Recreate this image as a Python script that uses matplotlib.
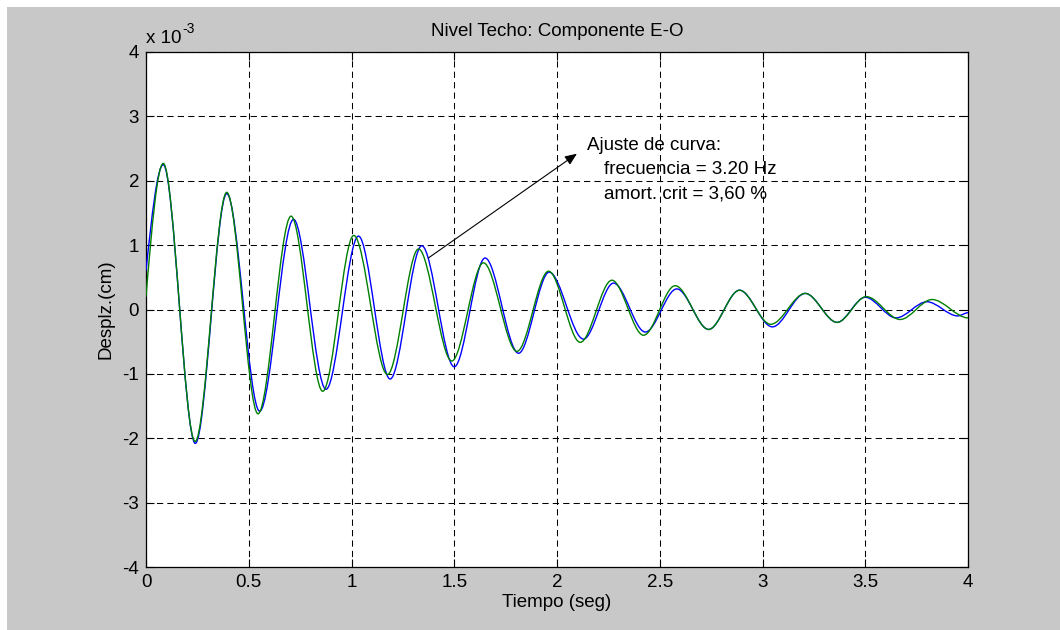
import matplotlib
matplotlib.use("Agg")
import matplotlib.pyplot as plt
from matplotlib.path import Path
from matplotlib.patches import PathPatch, Rectangle

plt.rcParams['font.family'] = ['Liberation Sans', 'DejaVu Sans']
plt.rcParams['font.size'] = 13.5
plt.rcParams['axes.unicode_minus'] = False

# peaks / troughs (time in s, displacement in 1e-3 cm)
blue_t = [0.0, 0.084, 0.24, 0.393, 0.553, 0.718, 0.876, 1.034, 1.188, 1.342,
          1.50, 1.65, 1.813, 1.962, 2.129, 2.275, 2.43, 2.583, 2.738, 2.888,
          3.048, 3.208, 3.363, 3.50, 3.65, 3.80, 3.95, 4.0]
blue_v = [0.6, 2.25, -2.08, 1.80, -1.58, 1.40, -1.24, 1.14, -1.08, 0.99,
          -0.89, 0.80, -0.68, 0.58, -0.46, 0.41, -0.35, 0.32, -0.31, 0.30,
          -0.27, 0.25, -0.20, 0.19, -0.13, 0.12, -0.10, -0.05]

green_t = [0.0, 0.084, 0.239, 0.393, 0.545, 0.706, 0.860, 1.011, 1.175, 1.326,
           1.488, 1.642, 1.805, 1.959, 2.113, 2.267, 2.421, 2.575, 2.738, 2.888,
           3.04, 3.208, 3.363, 3.505, 3.67, 3.825, 4.0]
green_v = [0.2, 2.27, -2.05, 1.82, -1.62, 1.45, -1.27, 1.15, -1.01, 0.94,
           -0.80, 0.725, -0.65, 0.595, -0.51, 0.455, -0.40, 0.37, -0.31, 0.30,
           -0.23, 0.25, -0.20, 0.20, -0.155, 0.155, -0.13]

xticks = [0, 0.5, 1, 1.5, 2, 2.5, 3, 3.5, 4]
xticklabels = ["0", "0.5", "1", "1.5", "2", "2.5", "3", "3.5", "4"]
yticks = [-4, -3, -2, -1, 0, 1, 2, 3, 4]
yticklabels = ["-4", "-3", "-2", "-1", "0", "1", "2", "3", "4"]


def wave_path(t, v):
    # smooth curve through the extrema (flat tangent at each one)
    verts = [(t[0], v[0])]
    codes = [Path.MOVETO]
    for i in range(len(t) - 1):
        dt = t[i + 1] - t[i]
        y0 = v[i]
        if i == 0:
            y0 = v[0] + (v[1] - v[0]) * 0.52
        verts += [(t[i] + dt / 3, y0), (t[i + 1] - dt / 3, v[i + 1]), (t[i + 1], v[i + 1])]
        codes += [Path.CURVE4] * 3
    return Path(verts, codes)


fig = plt.figure(figsize=(10.6, 6.3), dpi=100, facecolor='white')
fig.add_artist(Rectangle((7 / 1060, 0), 1, 1 - 7 / 630, transform=fig.transFigure,
                         facecolor='#c8c8c8', edgecolor='none', zorder=-1))
ax = fig.add_axes([146 / 1060, 1 - 567 / 630, 822 / 1060, 515 / 630])
ax.set_facecolor('white')

ax.add_patch(PathPatch(wave_path(blue_t, blue_v), fill=False, edgecolor='#0000ff',
                       lw=1.0, zorder=3, snap=False))
ax.add_patch(PathPatch(wave_path(green_t, green_v), fill=False, edgecolor='#008000',
                       lw=1.0, zorder=4, snap=False))

ax.set_xlim(0, 4)
ax.set_ylim(-4, 4)
ax.set_xticks(xticks)
ax.set_xticklabels(xticklabels)
ax.set_yticks(yticks)
ax.set_yticklabels(yticklabels)
ax.tick_params(direction='in', length=6, top=True, right=True, pad=5, colors='black')
ax.grid(True, color='black', linestyle=(0, (6, 4)), linewidth=0.75)
for s in ax.spines.values():
    s.set_linewidth(0.9)
    s.set_color('black')

ax.set_title("Nivel Techo: Componente E-O", fontsize=13.5, pad=11.5)
ax.set_xlabel("Tiempo (seg)", labelpad=2.5)
ax.set_ylabel("Desplz.(cm)", labelpad=5.5)
# MATLAB-style exponent label
ax.text(0.0, 1.0175, "x 10", transform=ax.transAxes, ha='left', va='baseline')
ax.annotate("-3", xy=(0.0, 1.0175), xycoords='axes fraction', xytext=(26.5, 7.5),
            textcoords='offset points', fontsize=10, ha='left', va='baseline')

ax.annotate('', xy=(2.097, 2.42), xytext=(1.374, 0.80),
            arrowprops=dict(arrowstyle='-|>,head_length=0.6,head_width=0.25',
                            mutation_scale=12, color='black', lw=0.8,
                            shrinkA=0, shrinkB=0))
ax.text(2.145, 2.47, "Ajuste de curva:", ha='left', va='baseline')
ax.text(2.23, 2.10, "frecuencia = 3.20 Hz", ha='left', va='baseline')
ax.text(2.23, 1.72, "amort. crit = 3,60 %", ha='left', va='baseline')

fig.savefig("out.png", dpi=100)
